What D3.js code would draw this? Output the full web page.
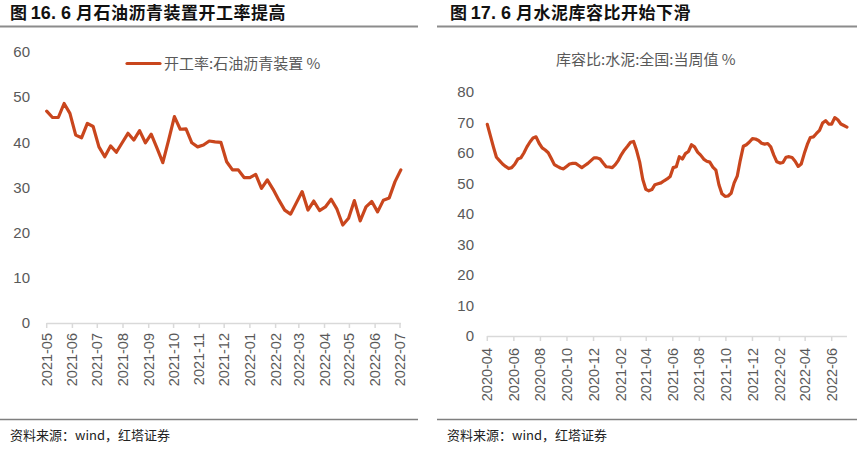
<!DOCTYPE html>
<html><head><meta charset="utf-8">
<script src="https://cdn.jsdelivr.net/npm/d3@7"></script>
<style>
body{margin:0;background:#fff;}
svg{display:block;font-family:"Liberation Sans","Noto Sans CJK SC",sans-serif;}
</style></head>
<body><svg id="c" width="865" height="453"></svg>
<script>
// ---- Chart A: 开工率:石油沥青装置 (weekly, 2021-05 .. 2022-07)
const startA = "2021-05-01";
const valuesA = [46.9,45.5,45.5,48.6,46.4,41.6,41.0,44.2,43.5,39.0,36.8,39.2,37.8,39.9,42.0,40.5,42.6,39.9,41.8,38.7,35.5,40.5,45.7,42.9,43.0,39.9,39.0,39.4,40.3,40.1,40.0,35.7,33.9,33.9,32.2,32.2,32.9,29.8,31.7,29.6,27.2,25.0,24.1,26.6,29.1,25.0,27.0,24.9,25.7,27.4,25.2,21.7,23.2,27.1,22.6,25.7,26.9,24.6,27.2,27.7,31.3,33.9];
const tickLabelsA = ["2021-05","2021-06","2021-07","2021-08","2021-09","2021-10","2021-11","2021-12","2022-01","2022-02","2022-03","2022-04","2022-05","2022-06","2022-07"];
const yTicksA = [0,10,20,30,40,50,60];
const seriesNameA = "开工率:石油沥青装置 %";
const titleA = ["图 ","16. 6 ","月石油沥青装置开工率提高"];

// ---- Chart B: 库容比:水泥:全国:当周值 (weekly, 2020-04 .. 2022-07)
const startB = "2020-04-01";
const valuesB = [69.4,65.7,62.0,58.6,57.5,56.4,55.6,54.9,55.2,56.3,58.0,58.4,60.0,62.0,63.6,64.9,65.3,63.2,61.7,61.0,60.1,58.2,56.2,55.6,55.1,54.8,55.6,56.4,56.6,56.6,55.9,55.2,55.9,56.6,57.5,58.4,58.4,58.0,56.7,55.5,55.4,55.2,56.2,57.6,59.5,61.0,62.2,63.5,63.8,60.8,57.0,51.4,48.1,47.6,48.0,49.6,49.9,50.2,50.9,51.5,52.3,55.2,55.5,58.8,58.0,59.8,60.5,62.7,62.0,60.3,59.3,58.0,57.3,57.0,55.4,54.4,49.6,46.6,45.8,45.9,46.8,50.2,52.4,57.6,62.2,62.7,63.6,64.7,64.6,64.1,63.2,62.9,63.1,62.0,59.3,57.1,56.7,56.9,58.6,58.8,58.5,57.3,55.6,56.4,59.8,62.8,65.1,65.3,66.4,67.4,69.8,70.6,69.5,69.5,71.6,70.9,69.5,69.0,68.5];
const tickLabelsB = ["2020-04","2020-06","2020-08","2020-10","2020-12","2021-02","2021-04","2021-06","2021-08","2021-10","2021-12","2022-02","2022-04","2022-06"];
const yTicksB = [0,10,20,30,40,50,60,70,80];
const seriesNameB = "库容比:水泥:全国:当周值 %";
const titleB = ["图 ","17. 6 ","月水泥库容比开始下滑"];

const source = "资料来源：wind，红塔证券";

const LINE = "#C9461D", TXT = "#595959", AX = "#d9d9d9";
const svg = d3.select("#c");
const pDay = d3.timeParse("%Y-%m-%d"), pMon = d3.timeParse("%Y-%m");

function weekly(start, vals){
  const s = pDay(start);
  return vals.map((v,i)=>({d:d3.timeDay.offset(s, 7*i), v}));
}

function panel(o){
  const data = weekly(o.start, o.values);
  const ticks = o.tickLabels.map(pMon);
  const x = d3.scaleTime().domain([ticks[0], ticks[ticks.length-1]]).range([o.x0, o.x1]);
  const y = d3.scaleLinear().domain([0, d3.max(o.yTicks)]).range([o.y0, o.y1]);
  const g = svg.append("g");

  // title
  const t = g.append("text").attr("x", o.tx).attr("y", 19).attr("fill","#111").style("font-size","17px").style("font-weight","bold");
  t.append("tspan").text(o.title[0]).style("font-family","Noto Sans CJK SC");
  t.append("tspan").text(o.title[1]).style("font-family","Liberation Sans").style("font-size","18px");
  t.append("tspan").text(o.title[2]).style("font-family","Noto Sans CJK SC").attr("letter-spacing","0.5px");
  g.append("line").attr("x1",o.lx0).attr("x2",o.lx1).attr("y1",26.5).attr("y2",26.5).attr("stroke","#8c8c8c").attr("stroke-width",2);
  // footer
  g.append("line").attr("x1",o.lx0).attr("x2",o.lx1).attr("y1",419.5).attr("y2",419.5).attr("stroke","#7f7f7f").attr("stroke-width",1.3);
  g.append("text").attr("x",o.lx0+10).attr("y",440).attr("fill","#222").style("font-size","13px").style("font-family","Noto Sans CJK SC, Liberation Sans").text(source);

  // y labels
  g.selectAll(".yl").data(o.yTicks).join("text")
    .attr("x", o.ylx).attr("y", d=>y(d)).attr("dy","0.35em").attr("text-anchor","end")
    .attr("fill",TXT).style("font-size","15px").text(d=>d);

  // x axis
  const last = data[data.length-1].d;
  g.append("line").attr("x1",x(data[0].d)).attr("x2",Math.max(x(last), o.x1)).attr("y1",o.y0+0.5).attr("y2",o.y0+0.5).attr("stroke",AX).attr("stroke-width",1.5);
  g.selectAll(".xt").data(ticks).join("line")
    .attr("x1",d=>x(d)).attr("x2",d=>x(d)).attr("y1",o.y0).attr("y2",o.y0+5).attr("stroke",AX).attr("stroke-width",1.5);
  const fmt = d3.timeFormat("%Y-%m");
  g.selectAll(".xl").data(ticks).join("text")
    .attr("transform", d=>`translate(${x(d)},${o.xlabY}) rotate(-90)`)
    .attr("text-anchor","end").attr("dy","0.35em")
    .attr("fill",TXT).style("font-size","14.5px").text(d=>fmt(d));

  // line
  g.append("path").datum(data)
    .attr("d", d3.line().x(d=>x(d.d)).y(d=>y(d.v)))
    .attr("fill","none").attr("stroke",LINE).attr("stroke-width",3.2)
    .attr("stroke-linejoin","round").attr("stroke-linecap","round");

  // legend
  if (o.legendLine){
    g.append("line").attr("x1",o.legX).attr("x2",o.legX+33).attr("y1",o.legY).attr("y2",o.legY).attr("stroke",LINE).attr("stroke-width",3.2).attr("stroke-linecap","round");
  }
  g.append("text").attr("x", o.legendLine ? o.legX+37 : o.legX).attr("y",o.legY).attr("dy","0.35em")
    .attr("fill",TXT).style("font-size","15px").style("font-family","Noto Sans CJK SC, Liberation Sans").text(o.name);
}

panel({start:startA, values:valuesA, tickLabels:tickLabelsA, yTicks:yTicksA, name:seriesNameA, title:titleA,
  x0:46.7, x1:400, y0:323, y1:52, ylx:30, xlabY:333, tx:10, lx0:0, lx1:418, legendLine:true, legX:127, legY:63.5});
panel({start:startB, values:valuesB, tickLabels:tickLabelsB, yTicks:yTicksB, name:seriesNameB, title:titleB,
  x0:487.3, x1:831.7, y0:336, y1:92, ylx:474, xlabY:348, tx:450, lx0:437, lx1:857, legendLine:false, legX:556, legY:60});
</script></body></html>
